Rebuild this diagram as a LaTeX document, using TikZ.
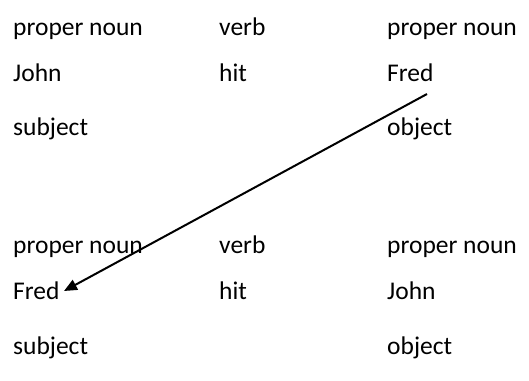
\documentclass[tikz,border=0pt]{standalone}
\usepackage{fontspec}
\setmainfont{Carlito}
\usepackage{tikz}
\usetikzlibrary{arrows.meta, positioning, calc}

\begin{document}
\begin{tikzpicture}[x=1pt, y=-1pt,
  word/.style={anchor=base west, inner sep=0pt, font=\fontsize{25.5}{30}\selectfont},
  arr/.style={-{Triangle[length=13pt, width=11pt]}, line width=2pt}
]
\useasboundingbox (0,0) rectangle (529,380);
% first sentence
\node[word] (posA1) at (13,35)  {proper noun};
\node[word] (posA2) at (219,35) {verb};
\node[word] (posA3) at (387,35) {proper noun};
\node[word] (johnA) at (13,81)  {John};
\node[word] (hitA)  at (219,81) {hit};
\node[word] (fredA) at (387,81) {Fred};
\node[word] (subjA) at (13,135) {subject};
\node[word] (objA)  at (387,135) {object};
% second sentence
\node[word] (posB1) at (13,253)  {proper noun};
\node[word] (posB2) at (219,253) {verb};
\node[word] (posB3) at (387,253) {proper noun};
\node[word] (fredB) at (13,299)  {Fred};
\node[word] (hitB)  at (219,299) {hit};
\node[word] (johnB) at (387,299) {John};
\node[word] (subjB) at (13,354)  {subject};
\node[word] (objB)  at (387,354) {object};

\coordinate (from) at (427,94);
\coordinate (to)   at (64,291);
\draw[arr] (from) -- (to);
\end{tikzpicture}
\end{document}
